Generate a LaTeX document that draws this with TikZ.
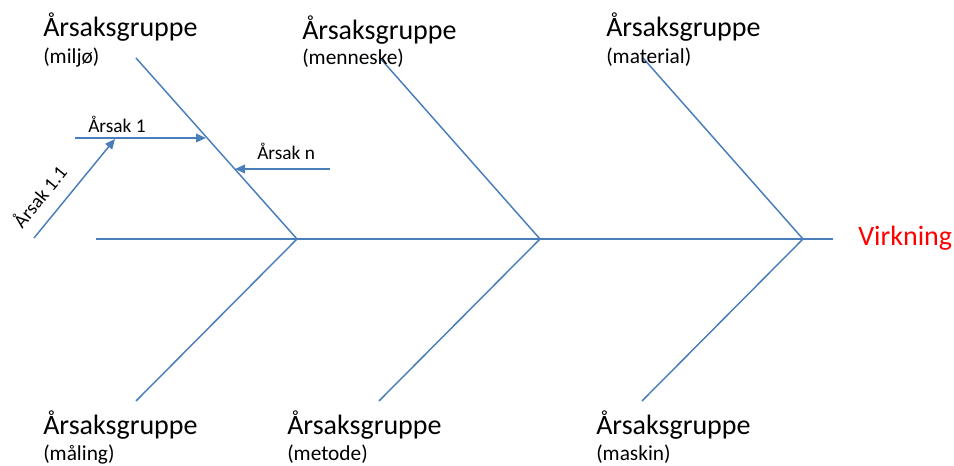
\documentclass[tikz,border=0pt]{standalone}
\usepackage{fontspec}
\setmainfont{Carlito}
\usetikzlibrary{arrows.meta}
\definecolor{bone}{HTML}{4A7EBB}
\begin{document}
\begin{tikzpicture}[x=0.75pt,y=-0.75pt,
  boneline/.style={draw=bone,line width=1.1pt},
  causearrow/.style={boneline,-{Triangle[width=6.5pt,length=7.5pt]}},
  grouptitle/.style={anchor=base west,inner sep=0pt,font=\fontsize{21}{25}\selectfont},
  groupsub/.style={anchor=base west,inner sep=0pt,font=\fontsize{16}{19}\selectfont},
  causelabel/.style={inner sep=0pt,font=\fontsize{14.5}{17}\selectfont},
  effect/.style={anchor=base west,inner sep=0pt,text=red,font=\fontsize{21}{25}\selectfont}]
\useasboundingbox (0,0) rectangle (954,466);

% spine and joints
\coordinate (tail) at (96,239);
\coordinate (head) at (833,239);
\coordinate (j1) at (297,239);
\coordinate (j2) at (540,239);
\coordinate (j3) at (803,239);
% outer ends of the ribs
\coordinate (t1) at (136,58);
\coordinate (t2) at (380,58);
\coordinate (t3) at (643,58);
\coordinate (b1) at (136,401);
\coordinate (b2) at (379,401);
\coordinate (b3) at (642,401);

\draw[boneline] (tail) -- (head);
\draw[boneline] (t1) -- (j1) -- (b1);
\draw[boneline] (t2) -- (j2) -- (b2);
\draw[boneline] (t3) -- (j3) -- (b3);

% group labels
\node[grouptitle] (g1) at (43,37) {Årsaksgruppe};
\node[groupsub]   (s1) at (43,64) {(miljø)};
\node[grouptitle] (g2) at (302,40) {Årsaksgruppe};
\node[groupsub]   (s2) at (302,65) {(menneske)};
\node[grouptitle] (g3) at (606,37) {Årsaksgruppe};
\node[groupsub]   (s3) at (606,64) {(material)};
\node[grouptitle] (g4) at (43,435) {Årsaksgruppe};
\node[groupsub]   (s4) at (43,461) {(måling)};
\node[grouptitle] (g5) at (287,435) {Årsaksgruppe};
\node[groupsub]   (s5) at (287,461) {(metode)};
\node[grouptitle] (g6) at (596,435) {Årsaksgruppe};
\node[groupsub]   (s6) at (596,461) {(maskin)};

\node[effect] (eff) at (858,246) {Virkning};

% causes on the first rib
\coordinate (c1s) at (75,138);
\coordinate (c1e) at (206,138);
\coordinate (c11s) at (34,238);
\coordinate (c11e) at (115,139);
\coordinate (cns) at (330,169);
\coordinate (cne) at (235,169);
\draw[causearrow] (c1s) -- (c1e);
\draw[causearrow] (c11s) -- (c11e);
\draw[causearrow] (cns) -- (cne);

\node[causelabel,anchor=base west] (a1) at (88,133) {Årsak 1};
\node[causelabel,anchor=base west] (an) at (257,160) {Årsak n};
\node[causelabel,rotate=50.7] (a11) at (39,196) {Årsak 1.1};
\end{tikzpicture}
\end{document}
